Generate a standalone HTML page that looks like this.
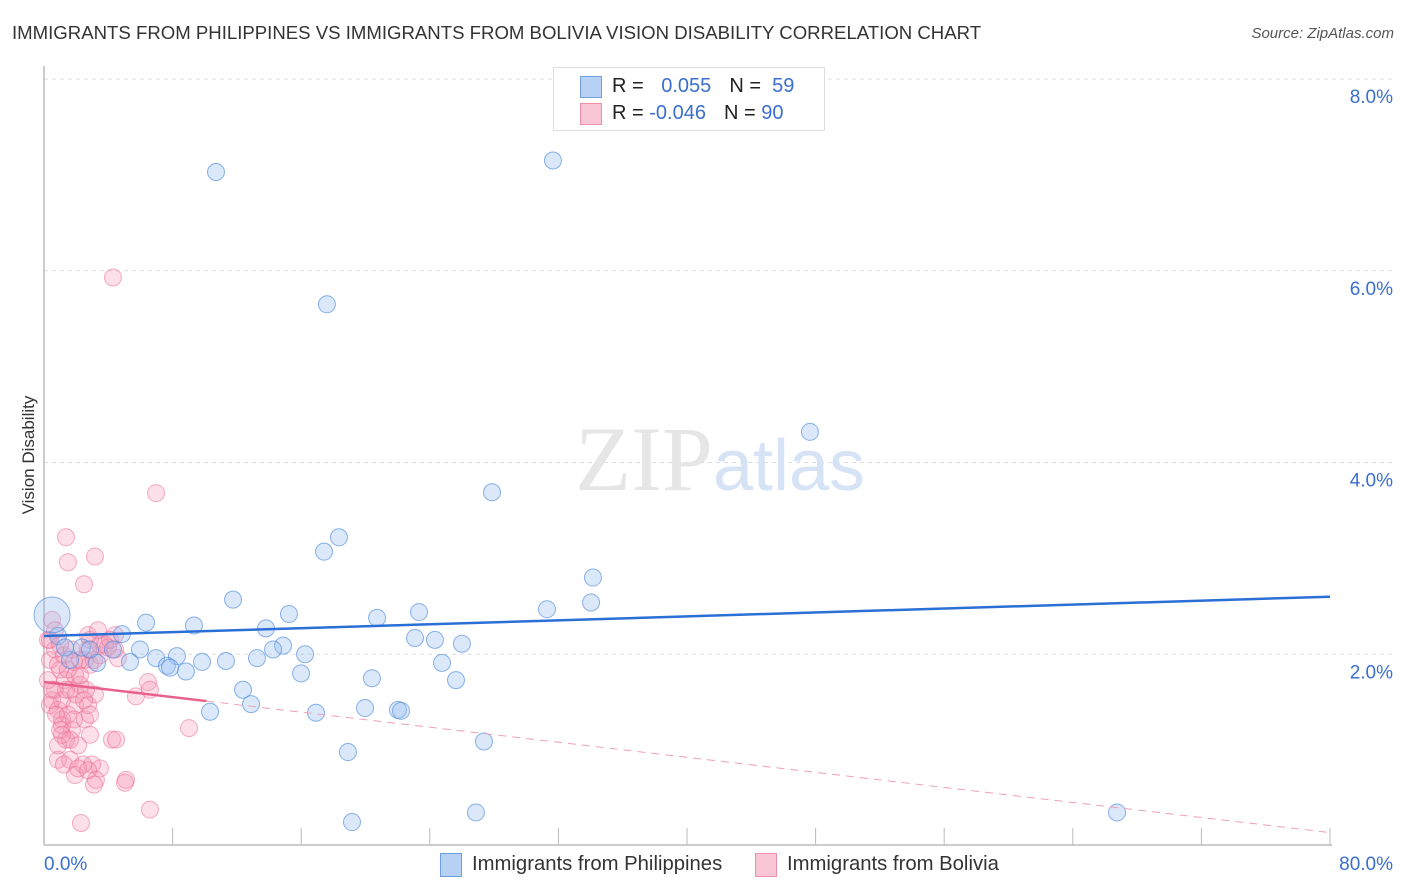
<!DOCTYPE html>
<html><head><meta charset="utf-8">
<style>
body{margin:0;background:#fff;font-family:"Liberation Sans",sans-serif;}
#wrap{position:relative;width:1406px;height:892px;overflow:hidden;}
.t{position:absolute;white-space:nowrap;}
</style></head>
<body>
<div id="wrap">
<div class="t" style="left:12px;top:22px;font-size:18.6px;color:#333;">IMMIGRANTS FROM PHILIPPINES VS IMMIGRANTS FROM BOLIVIA VISION DISABILITY CORRELATION CHART</div>
<div class="t" style="right:12px;top:25px;font-size:15px;color:#555;font-style:italic;">Source: ZipAtlas.com</div>
<div class="t" style="left:-36px;top:445px;font-size:17px;color:#333;transform:rotate(-90deg);width:130px;text-align:center;">Vision Disability</div>
<svg id="chart" width="1406" height="892" style="position:absolute;left:0;top:0"></svg>
<div style="position:absolute;left:553px;top:67px;width:270px;height:62px;border:1px solid #ddd;background:#fff;font-size:20px;">
 <div style="position:absolute;left:26px;top:8px;width:20px;height:20px;background:#b7d1f5;border:1px solid #6f9fe0;"></div>
 <div class="t" style="left:58px;top:7px;color:#222;">R = <span style="color:#3a6fd0;margin-left:12px">0.055</span><span style="color:#222;margin-left:18px">N = </span><span style="color:#3a6fd0">&nbsp;59</span></div>
 <div style="position:absolute;left:26px;top:35px;width:20px;height:20px;background:#f9c6d5;border:1px solid #ee8fae;"></div>
 <div class="t" style="left:58px;top:34px;color:#222;">R = <span style="color:#3a6fd0">-0.046</span><span style="color:#222;margin-left:18px">N = </span><span style="color:#3a6fd0">90</span></div>
</div>
<div style="position:absolute;left:440px;top:853px;height:24px;font-size:20.3px;color:#333;">
 <div style="position:absolute;left:0;top:0;width:20px;height:22px;background:#b7d1f5;border:1px solid #6f9fe0;"></div>
 <div class="t" style="left:32px;top:0;">Immigrants from Philippines</div></div>
<div style="position:absolute;left:755px;top:853px;height:24px;font-size:20.3px;color:#333;">
 <div style="position:absolute;left:0;top:0;width:20px;height:22px;background:#f9c6d5;border:1px solid #ee8fae;"></div>
 <div class="t" style="left:32px;top:0;">Immigrants from Bolivia</div></div>
</div>
<script>
const blueX=[10.70,31.66,17.60,47.65,27.87,18.35,17.42,34.15,11.76,31.29,34.03,15.24,20.72,23.33,6.35,9.33,4.85,13.81,23.08,24.32,26.00,14.87,14.25,16.24,2.36,4.29,5.97,6.97,8.27,7.65,8.83,9.83,11.32,13.25,5.35,3.30,24.76,15.99,20.40,25.63,12.38,12.88,10.33,16.92,19.97,22.02,22.21,18.91,27.37,26.87,19.16,66.75,0.87,1.62,1.31,7.84,2.86,0.50];
const blueY=[7.03,7.15,5.65,4.32,3.69,3.22,3.07,2.80,2.57,2.47,2.54,2.42,2.38,2.44,2.33,2.30,2.21,2.27,2.17,2.15,2.11,2.09,2.05,2.00,2.07,2.05,2.05,1.96,1.98,1.88,1.82,1.92,1.93,1.96,1.92,1.91,1.91,1.80,1.75,1.73,1.63,1.48,1.40,1.39,1.44,1.42,1.41,0.98,1.09,0.35,0.25,0.35,2.19,1.94,2.07,1.86,2.05,2.41];
const pinkX=[4.29,6.97,1.37,3.17,1.49,2.49,0.50,0.25,0.37,0.68,1.00,1.31,1.62,1.93,2.24,2.55,2.86,3.48,4.42,4.42,2.86,0.50,0.87,1.12,1.49,1.74,1.37,1.00,2.12,1.62,0.68,1.12,1.93,2.55,2.74,3.17,2.86,4.23,4.48,3.48,2.99,2.43,1.93,3.23,5.10,5.04,6.59,2.30,5.72,6.47,6.59,9.02,2.74,3.79,0.25,0.50,0.87,1.24,1.74,2.24,2.61,3.48,0.87,1.62,1.12,1.87,0.37,0.68,1.00,1.49,1.87,2.24,3.11,3.36,3.98,1.37,1.99,2.49,2.86,0.87,1.24,2.12,2.74,3.11,0.37,0.75,1.12,4.11,4.60,2.74];
const pinkY=[5.93,3.68,3.22,3.02,2.96,2.73,2.36,2.15,1.94,2.05,1.84,1.73,1.63,1.78,1.68,1.94,1.89,1.99,2.05,2.20,2.15,1.52,1.42,1.32,1.37,1.21,1.11,1.21,1.05,0.90,1.63,1.52,1.47,1.32,1.47,1.58,1.16,1.11,1.11,0.81,0.85,0.85,0.74,0.69,0.69,0.66,0.38,0.24,1.56,1.71,1.63,1.23,2.20,2.10,1.73,1.63,1.89,1.99,2.05,1.78,1.63,2.10,0.90,1.11,1.26,1.32,2.15,2.25,2.10,1.84,1.92,1.94,1.94,2.25,2.07,1.63,1.58,1.52,1.37,1.05,0.85,0.81,0.79,0.64,1.47,1.37,1.16,2.15,1.96,2.05];
const yTicks=[2,4,6,8];
const yTickLabels=["2.0%","4.0%","6.0%","8.0%"];
const xTicks=[0,8,16,24,32,40,48,56,64,72,80];
const blueTrend=[2.19,2.60];
const pinkTrend=[1.71,0.14];
const pinkSolidEnd=10.1;

const X0=44,X1=1330,Y0=846,Y1=79;
const sx=v=>X0+(v/80)*(X1-X0);
const sy=v=>Y0-(v/8)*(Y0-Y1);
const svg=document.getElementById('chart');
const NS='http://www.w3.org/2000/svg';
function mk(tag,attrs){const e=document.createElementNS(NS,tag);for(const k in attrs)e.setAttribute(k,attrs[k]);svg.appendChild(e);return e;}

yTicks.forEach((t,i)=>{
  const g=mk('line',{x1:X0,x2:1395,y1:sy(t),y2:sy(t),stroke:'#ddd','stroke-dasharray':'4,4'});
  
  
  const tx=mk('text',{x:1393,y:sy(t)+24,'text-anchor':'end','font-size':19,fill:'#3a6fd0','font-family':'Liberation Sans, sans-serif'});
  tx.textContent=yTickLabels[i];
  
  
});
const wm=mk('text',{x:720,y:490,'text-anchor':'middle','font-size':92,fill:'#e6e6e6','font-family':'Liberation Serif, serif'});
wm.innerHTML='ZIP<tspan fill="#d6e3f5" font-family="Liberation Sans, sans-serif" font-size="72">atlas</tspan>';



const ax=mk('line',{x1:X0,x2:X1+2,y1:845,y2:845,stroke:'#bbb','stroke-width':1.5});


const ay=mk('line',{x1:X0,x2:X0,y1:66,y2:845,stroke:'#bbb','stroke-width':1.5});


xTicks.forEach(t=>{
  const l=mk('line',{x1:sx(t),x2:sx(t),y1:828,y2:845,stroke:'#bbb'});
  
  
});
[[0,'0.0%','start',44],[80,'80.0%','end',1393]].forEach(([v,s,a,x])=>{
  const tx=mk('text',{x:x,y:870,'text-anchor':a,'font-size':19,fill:'#3a6fd0','font-family':'Liberation Sans, sans-serif'});
  tx.textContent=s;
  
  
});

pinkX.forEach((x,i)=>{
  const c=mk('circle',{cx:sx(x),cy:sy(pinkY[i]),r:8.5,fill:'rgba(245,150,180,0.3)',stroke:'rgba(235,110,150,0.55)','stroke-width':1});
  
  
});
blueX.forEach((x,i)=>{
  const big=i===blueX.length-1;
  const c=mk('circle',{cx:sx(x),cy:sy(blueY[i]),r:big?18:8.5,fill:'rgba(150,190,240,0.35)',stroke:'rgba(80,140,220,0.65)','stroke-width':1});
  
  
});
const bt=mk('line',{x1:sx(0),y1:sy(blueTrend[0]),x2:sx(80),y2:sy(blueTrend[1]),stroke:'#2a6fd6','stroke-width':2.5});


const pAt=x=>pinkTrend[0]+(pinkTrend[1]-pinkTrend[0])*x/80;
const pt=mk('line',{x1:sx(0),y1:sy(pAt(0)),x2:sx(pinkSolidEnd),y2:sy(pAt(pinkSolidEnd)),stroke:'#e8608c','stroke-width':2.5});


const pd=mk('line',{x1:sx(pinkSolidEnd),y1:sy(pAt(pinkSolidEnd)),x2:sx(80),y2:sy(pAt(80)),stroke:'#eea0b8','stroke-width':1,'stroke-dasharray':'8,6'});


</script>
</body></html>
